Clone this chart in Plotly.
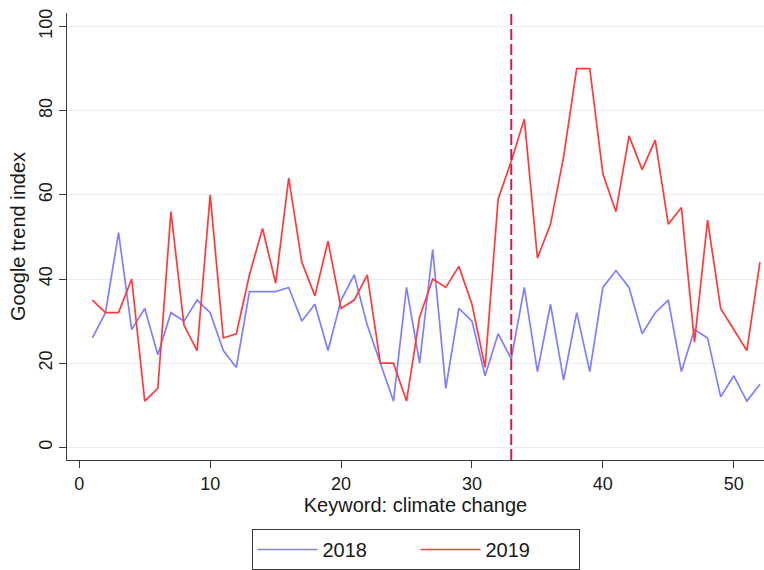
import plotly.graph_objects as go

weeks = list(range(1, 53))
trend_2018 = [26, 32, 51, 28, 33, 22, 32, 30, 35, 32, 23, 19, 37, 37, 37, 38, 30, 34, 23, 35,
              41, 29, 20, 11, 38, 20, 47, 14, 33, 30, 17, 27, 21, 38, 18, 34, 16, 32, 18, 38,
              42, 38, 27, 32, 35, 18, 28, 26, 12, 17, 11, 15]
trend_2019 = [35, 32, 32, 40, 11, 14, 56, 29, 23, 60, 26, 27, 41, 52, 39, 64, 44, 36, 49, 33,
              35, 41, 20, 20, 11, 31, 40, 38, 43, 34, 19, 59, 68, 78, 45, 53, 69, 90, 90, 65,
              56, 74, 66, 73, 53, 57, 25, 54, 33, 28, 23, 44]
event_week = 33
x_ticks = [0, 10, 20, 30, 40, 50]
y_ticks = [0, 20, 40, 60, 80, 100]

FONT = "Liberation Sans, Arial, sans-serif"
AXIS = "#3a3a3a"
GRID = "#e6eff1"

fig = go.Figure()
fig.add_trace(go.Scatter(x=weeks, y=trend_2018, mode="lines", name="2018",
                         line=dict(color="#7f7fff", width=1.7)))
fig.add_trace(go.Scatter(x=weeks, y=trend_2019, mode="lines", name="2019",
                         line=dict(color="#ff3a3a", width=1.7)))

fig.add_shape(type="line", xref="x", yref="paper", x0=event_week, x1=event_week, y0=0, y1=1,
              line=dict(color="#c42255", width=2, dash="11px,4px"), layer="above")

fig.update_layout(
    width=764, height=570,
    margin=dict(l=67, r=0, t=13, b=108),
    paper_bgcolor="white", plot_bgcolor="white",
    font=dict(family=FONT, color="#1a1a1a"),
    showlegend=True,
    legend=dict(orientation="h", x=0.5, xanchor="center", y=-0.155, yanchor="top",
                xref="paper", yref="paper",
                bordercolor=AXIS, borderwidth=1, bgcolor="white",
                font=dict(size=20, family=FONT, color="#1a1a1a"),
                entrywidth=88, entrywidthmode="pixels", itemwidth=60),
    xaxis=dict(range=[-0.94, 52.31], tickvals=x_ticks, ticks="outside", ticklen=7,
               tickwidth=1, tickcolor=AXIS, showline=True, linecolor=AXIS, linewidth=1,
               showgrid=False, zeroline=False, tickfont=dict(size=18, family=FONT),
               title=dict(text="Keyword: climate change", font=dict(size=20, family=FONT),
                          standoff=4)),
    yaxis=dict(range=[-3.0, 103.2], tickvals=y_ticks, ticks="outside", ticklen=7,
               tickwidth=1, tickcolor=AXIS, showline=True, linecolor=AXIS, linewidth=1,
               showgrid=True, gridcolor=GRID, gridwidth=1, zeroline=False,
               tickangle=-90, tickfont=dict(size=18, family=FONT),
               title=dict(text="Google trend index", font=dict(size=20, family=FONT),
                          standoff=4)),
)

fig.write_html("out.html")
